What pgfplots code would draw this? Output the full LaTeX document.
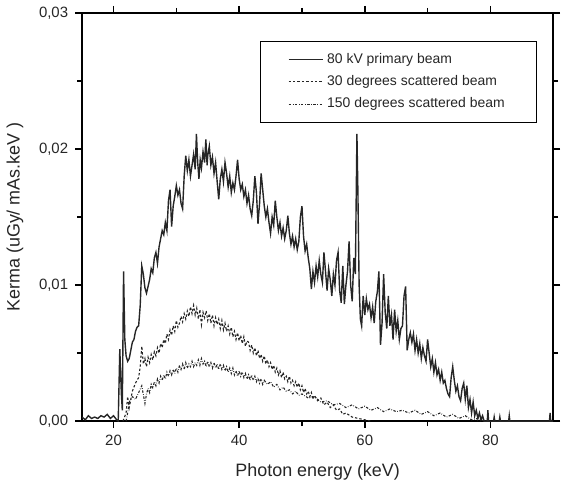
\documentclass[border=0pt]{standalone}
\usepackage{fontspec}
\setmainfont{Liberation Sans}
\usepackage{pgfplots}
\pgfplotsset{compat=1.18}
\usepackage{pgfplotstable}

% primary beam, kerma per keV
\pgfplotstableread{
E K
15.0 0.0003
15.5 0.0001
16.0 0.0004
16.5 0.0002
17.0 0.0003
17.5 0.0002
18.0 0.0004
18.5 0.0003
19.0 0.0005
19.5 0.0002
20.0 0.0004
20.5 0.0001
20.75 0.0
21.0 0.0053
21.25 0.0020
21.4 0.0008
21.6 0.0110
21.8 0.0060
22.0 0.0048
22.25 0.0044
22.5 0.0046
22.75 0.0052
23.0 0.0058
23.25 0.0060
23.5 0.0066
23.75 0.0069
24.0 0.0070
24.25 0.0085
24.5 0.0114
24.75 0.0108
25.0 0.0098
25.25 0.0094
25.5 0.0099
25.75 0.0104
26.0 0.0112
26.25 0.0109
26.5 0.0120
26.75 0.0124
27.0 0.0116
27.25 0.0128
27.5 0.0134
27.75 0.0140
28.0 0.0137
28.25 0.0146
28.5 0.0140
28.75 0.0162
29.0 0.0170
29.25 0.0143
29.5 0.0158
29.75 0.0165
30.0 0.0173
30.25 0.0166
30.5 0.0170
30.75 0.0160
31.0 0.0156
31.25 0.0180
31.5 0.0195
31.75 0.0184
32.0 0.0192
32.25 0.0180
32.5 0.0188
32.75 0.0196
33.0 0.0185
33.2 0.0211
33.4 0.0190
33.6 0.0178
33.8 0.0192
34.0 0.0186
34.25 0.0198
34.5 0.0190
34.7 0.0207
34.9 0.0188
35.0 0.0195
35.25 0.0202
35.5 0.0188
35.75 0.0194
36.0 0.0182
36.25 0.0190
36.5 0.0176
36.75 0.0163
37.0 0.0178
37.25 0.0185
37.5 0.0176
37.75 0.0190
38.0 0.0182
38.25 0.0172
38.5 0.0180
38.75 0.0168
39.0 0.0175
39.25 0.0170
39.5 0.0180
39.75 0.0192
40.0 0.0178
40.25 0.0170
40.5 0.0174
40.75 0.0165
41.0 0.0170
41.25 0.0160
41.5 0.0166
41.75 0.0156
42.0 0.0151
42.25 0.0162
42.5 0.0180
42.75 0.0168
43.0 0.0145
43.25 0.0160
43.5 0.0182
43.75 0.0170
44.0 0.0158
44.25 0.0150
44.5 0.0156
44.75 0.0146
45.0 0.0138
45.25 0.0150
45.5 0.0144
45.75 0.0162
46.0 0.0150
46.25 0.0140
46.5 0.0146
46.75 0.0136
47.0 0.0142
47.25 0.0134
47.5 0.0140
47.75 0.0151
48.0 0.0138
48.25 0.0130
48.5 0.0136
48.75 0.0128
49.0 0.0134
49.25 0.0126
49.5 0.0132
49.75 0.0150
50.0 0.0158
50.25 0.0136
50.5 0.0125
50.75 0.0130
51.0 0.0120
51.25 0.0112
51.5 0.0097
51.75 0.0110
52.0 0.0102
52.25 0.0114
52.5 0.0106
52.75 0.0118
53.0 0.0108
53.25 0.0102
53.5 0.0124
53.75 0.0110
54.0 0.0096
54.25 0.0112
54.5 0.0104
54.75 0.0092
55.0 0.0108
55.25 0.0100
55.5 0.0118
55.75 0.0124
56.0 0.0096
56.25 0.0087
56.5 0.0114
56.75 0.0086
57.0 0.0100
57.25 0.0110
57.5 0.0132
57.75 0.0100
58.0 0.0088
58.25 0.0120
58.5 0.0108
58.6 0.0150
58.75 0.0211
58.9 0.0170
59.1 0.0100
59.3 0.0075
59.5 0.0070
59.75 0.0092
60.0 0.0078
60.25 0.0090
60.5 0.0082
60.75 0.0086
61.0 0.0076
61.25 0.0084
61.5 0.0072
61.75 0.0088
62.0 0.0095
62.25 0.0110
62.5 0.0056
62.75 0.0072
63.0 0.0108
63.25 0.0080
63.5 0.0068
63.75 0.0092
64.0 0.0070
64.25 0.0078
64.5 0.0060
64.75 0.0082
65.0 0.0066
65.25 0.0074
65.5 0.0060
65.75 0.0068
66.0 0.0070
66.25 0.0092
66.5 0.0099
66.75 0.0052
67.0 0.0060
67.25 0.0065
67.5 0.0058
67.75 0.0064
68.0 0.0052
68.25 0.0060
68.5 0.0050
68.75 0.0057
69.0 0.0046
69.25 0.0054
69.5 0.0048
69.75 0.0044
70.0 0.0060
70.25 0.0050
70.5 0.0040
70.75 0.0046
71.0 0.0036
71.25 0.0043
71.5 0.0034
71.75 0.0038
72.0 0.0030
72.25 0.0036
72.5 0.0028
72.75 0.0030
73.0 0.0024
73.25 0.0020
73.5 0.0018
73.75 0.0032
74.0 0.0040
74.25 0.0030
74.5 0.0022
74.75 0.0026
75.0 0.0018
75.25 0.0015
75.5 0.0024
75.75 0.0028
76.0 0.0016
76.25 0.0026
76.5 0.0010
76.75 0.0016
77.0 0.0006
77.25 0.0014
77.5 0.0004
77.75 0.0008
78.0 0.0002
78.25 0.0006
78.5 0.0001
78.75 0.0004
79.0 0.0
79.5 0.0
79.6 0.0008
79.7 0.0
80.5 0.0
80.6 0.0003
80.7 0.0
81.4 0.0
81.5 0.0003
81.6 0.0
82.9 0.0
83.0 0.0004
83.1 0.0
89.4 0.0
89.5 0.0006
89.6 0.0
90.0 0.0
}\primary

% 30 degrees scattered beam
\pgfplotstableread{
E K
21.5 0.0
22.0 0.0006
22.25 0.0018
22.5 0.0010
23.0 0.0022
23.5 0.0028
24.0 0.0032
24.25 0.0040
24.5 0.0055
24.75 0.0042
25.0 0.0046
25.25 0.0040
25.5 0.0047
25.75 0.0043
26.0 0.0049
26.25 0.0045
26.5 0.0051
26.75 0.0048
27.0 0.0054
27.25 0.0050
27.5 0.0057
27.75 0.0054
28.0 0.0060
28.25 0.0057
28.5 0.0064
28.75 0.0060
29.0 0.0067
29.25 0.0063
29.5 0.0070
29.75 0.0066
30.0 0.0074
30.25 0.0069
30.5 0.0072
30.75 0.0077
31.0 0.0073
31.25 0.0079
31.5 0.0075
31.75 0.0081
32.0 0.0077
32.25 0.0084
32.5 0.0079
32.75 0.0085
33.0 0.0078
33.25 0.0083
33.5 0.0075
33.75 0.0082
34.0 0.0071
34.25 0.0080
34.5 0.0076
34.75 0.0081
35.0 0.0074
35.25 0.0079
35.5 0.0072
35.75 0.0078
36.0 0.0070
36.25 0.0076
36.5 0.0071
36.75 0.0075
37.0 0.0068
37.25 0.0074
37.5 0.0067
37.75 0.0072
38.0 0.0066
38.25 0.0070
38.5 0.0064
38.75 0.0069
39.0 0.0062
39.25 0.0066
39.5 0.0060
39.75 0.0065
40.0 0.0059
40.25 0.0063
40.5 0.0057
40.75 0.0062
41.0 0.0055
41.25 0.0059
41.5 0.0058
41.75 0.0052
42.0 0.0056
42.25 0.0050
42.5 0.0054
42.75 0.0048
43.0 0.0052
43.25 0.0046
43.5 0.0049
43.75 0.0044
44.0 0.0048
44.25 0.0042
44.5 0.0045
44.75 0.0040
45.0 0.0043
45.25 0.0038
45.5 0.0041
45.75 0.0036
46.0 0.0039
46.25 0.0034
46.5 0.0037
46.75 0.0032
47.0 0.0036
47.25 0.0031
47.5 0.0033
47.75 0.0029
48.0 0.0033
48.25 0.0028
48.5 0.0030
48.75 0.0026
49.0 0.0029
49.25 0.0025
49.5 0.0028
49.75 0.0023
50.0 0.0026
50.25 0.0021
50.5 0.0024
50.75 0.0020
51.0 0.0022
51.25 0.0018
51.5 0.0021
51.75 0.0016
52.0 0.0019
52.5 0.0015
53.0 0.0017
53.5 0.0012
54.0 0.0014
54.5 0.0010
55.0 0.0012
55.5 0.0008
56.0 0.0009
56.5 0.0005
57.0 0.0006
58.0 0.0003
59.0 0.0002
60.0 0.0001
61.0 0.0
}\thirty

% 150 degrees scattered beam
\pgfplotstableread{
E K
22.0 0.0
22.25 0.0006
22.5 0.0014
23.0 0.0018
23.5 0.0016
24.0 0.0021
24.5 0.0026
25.0 0.0013
25.25 0.0020
25.5 0.0024
25.75 0.0021
26.0 0.0027
26.25 0.0024
26.5 0.0029
26.75 0.0026
27.0 0.0031
27.25 0.0028
27.5 0.0033
27.75 0.0030
28.0 0.0034
28.25 0.0031
28.5 0.0036
28.75 0.0033
29.0 0.0037
29.25 0.0034
29.5 0.0038
29.75 0.0035
30.0 0.0039
30.25 0.0036
30.5 0.0041
30.75 0.0038
31.0 0.0042
31.25 0.0038
31.5 0.0043
31.75 0.0039
32.0 0.0042
32.25 0.0040
32.5 0.0044
32.75 0.0040
33.0 0.0043
33.25 0.0041
33.5 0.0045
33.75 0.0041
34.0 0.0046
34.25 0.0042
34.5 0.0044
34.75 0.0040
35.0 0.0044
35.25 0.0040
35.5 0.0043
35.75 0.0039
36.0 0.0043
36.25 0.0039
36.5 0.0042
36.75 0.0038
37.0 0.0042
37.25 0.0038
37.5 0.0041
37.75 0.0037
38.0 0.0040
38.25 0.0036
38.5 0.0039
38.75 0.0035
39.0 0.0039
39.25 0.0034
39.5 0.0037
39.75 0.0033
40.0 0.0037
40.25 0.0033
40.5 0.0036
40.75 0.0032
41.0 0.0035
41.25 0.0031
41.5 0.0034
41.75 0.0030
42.0 0.0034
42.25 0.0030
42.5 0.0033
42.75 0.0029
43.0 0.0032
43.25 0.0028
43.5 0.0031
43.75 0.0027
44.0 0.0030
44.5 0.0027
45.0 0.0029
45.5 0.0025
46.0 0.0027
46.5 0.0023
47.0 0.0025
47.5 0.0022
48.0 0.0023
48.5 0.0020
49.0 0.0022
49.5 0.0019
50.0 0.0020
51.0 0.0017
52.0 0.0018
53.0 0.0014
54.0 0.0015
55.0 0.0012
56.0 0.0013
57.0 0.0010
58.0 0.0012
59.0 0.0009
60.0 0.0011
61.0 0.0008
62.0 0.0010
63.0 0.0007
64.0 0.0009
65.0 0.0007
66.0 0.0008
67.0 0.0006
68.0 0.0008
69.0 0.0005
70.0 0.0007
71.0 0.0004
72.0 0.0006
73.0 0.0003
74.0 0.0005
75.0 0.0002
76.0 0.0004
77.0 0.0001
78.0 0.0002
79.0 0.0
}\onefifty

\begin{document}
\begin{tikzpicture}
\begin{axis}[
  scale only axis,
  width=236.5pt, height=205pt,
  xmin=15, xmax=90, ymin=0, ymax=0.03,
  xtick={20,40,60,80}, minor xtick={30,50,70},
  ytick={0,0.01,0.02,0.03}, minor ytick={0.005,0.015,0.025},
  scaled y ticks=false,
  yticklabel style={/pgf/number format/.cd, fixed, fixed zerofill, precision=2, use comma},
  /pgf/number format/assume math mode=true,
  tick align=outside, tick pos=both,
  major tick length=3.5pt, minor tick length=2.5pt,
  every tick/.style={black, line width=0.8pt},
  axis line style={line width=0.9pt},
  tick label style={font=\fontsize{7.5}{9}\selectfont, black!85},
  label style={font=\fontsize{9}{11}\selectfont, black!85},
  xlabel={Photon energy (keV)},
  ylabel={Kerma (uGy/ mAs.keV )},
  xlabel style={yshift=-2pt},
  ylabel style={yshift=1pt},
  legend style={at={(rel axis cs:0.966,0.932)}, anchor=north east,
    font=\fontsize{7}{8.5}\selectfont, text=black!85, draw=black, line width=0.6pt,
    inner xsep=14pt, inner ysep=4pt, row sep=0.6pt,
    legend cell align=left},
  legend image post style={line width=0.5pt},
]
\addplot[black!85, line width=0.7pt] table[x=E, y=K] {\primary};
\addplot[black!85, line width=0.55pt, dash pattern=on 1.2pt off 1pt] table[x=E, y=K] {\thirty};
\addplot[black!85, line width=0.55pt, dash pattern=on 1.2pt off 0.8pt on 0.3pt off 0.8pt] table[x=E, y=K] {\onefifty};
\legend{80 kV primary beam, 30 degrees scattered beam, 150 degrees scattered beam}
\end{axis}
\end{tikzpicture}
\end{document}
